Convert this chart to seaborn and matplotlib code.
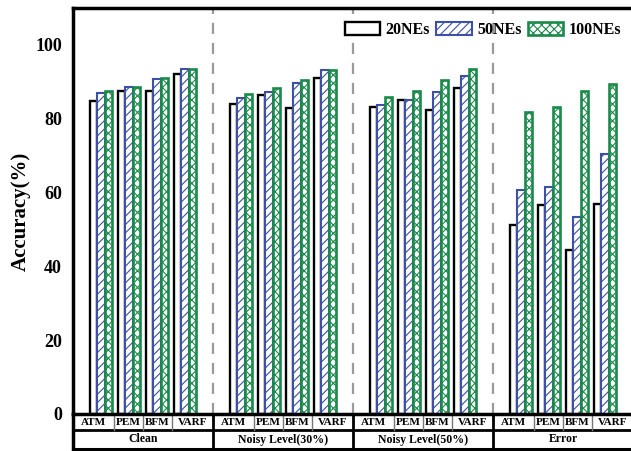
import numpy as np
import pandas as pd
import matplotlib
matplotlib.use("Agg")
import matplotlib.pyplot as plt
import seaborn as sns
from matplotlib.patches import Patch
from matplotlib.transforms import blended_transform_factory

# ---- data ----
conditions = ["Clean", "Noisy Level(30%)", "Noisy Level(50%)", "Error"]
methods = ["ATM", "PEM", "BFM", "VARF"]
series = ["20NEs", "50NEs", "100NEs"]

ne20 = [84.8, 87.4, 87.5, 92.1,
        84.0, 86.4, 82.9, 91.0,
        83.2, 85.2, 82.5, 88.2,
        51.1, 56.5, 44.3, 56.8]
ne50 = [87.1, 88.5, 90.7, 93.6,
        85.7, 87.3, 89.6, 93.2,
        83.7, 85.2, 87.3, 91.5,
        60.7, 61.6, 53.3, 70.5]
ne100 = [87.4, 88.7, 91.0, 93.6,
         86.7, 88.3, 90.6, 93.2,
         85.8, 87.5, 90.5, 93.4,
         81.8, 83.2, 87.4, 89.4]

yticks = [0, 20, 40, 60, 80, 100]

# ---- build long table ----
rows = []
for gi, cond in enumerate(conditions):
    for mi, m in enumerate(methods):
        idx = gi * 4 + mi
        pos = gi * 5 + mi + 1
        for s, vals in zip(series, [ne20, ne50, ne100]):
            rows.append(dict(pos=pos, cond=cond, method=m, NEs=s, acc=vals[idx]))
df = pd.DataFrame(rows)

plt.rcParams["hatch.linewidth"] = 0.8

W, H = 631, 451
fig = plt.figure(figsize=(W / 100, H / 100), dpi=100)
ax = fig.add_axes([73 / W, (H - 414) / H, 560 / W, (414 - 8) / H])

sns.barplot(data=df, x="pos", y="acc", hue="NEs", hue_order=series,
            native_scale=True, width=0.8, ax=ax, legend=False, errorbar=None)

edgecols = ["black", "#3B50A6", "#1A8A4A"]
hatches = [None, "////", "xxxx"]
lws = [1.7, 1.5, 1.9]
for cont, ec, ht, lw in zip(ax.containers, edgecols, hatches, lws):
    for bar in cont:
        bar.set_facecolor("white")
        bar.set_edgecolor(ec)
        bar.set_linewidth(lw)
        if ht:
            bar.set_hatch(ht)

ax.set_xlim(0, 20)
ax.set_ylim(0, 110)
ax.set_xticks([])
ax.set_xlabel("")
ax.set_yticks(yticks)
ax.set_yticklabels([str(t) for t in yticks], fontfamily="Liberation Serif",
                   fontweight="bold", fontsize=13)
ax.tick_params(axis="y", length=0, pad=8)
ax.set_ylabel("Accuracy(%)", fontfamily="Liberation Serif", fontweight="bold",
              fontsize=15, labelpad=3)

for side in ["left", "top"]:
    ax.spines[side].set_linewidth(2.5)
    ax.spines[side].set_color("black")
ax.spines["right"].set_visible(False)
ax.spines["bottom"].set_linewidth(2.5)

# dashed separators
for xs in [5, 10, 15]:
    ax.axvline(xs, color="#9a9a9a", linestyle=(0, (5, 4)), linewidth=1.6, zorder=0)

# ---- category table below axis ----
tr = blended_transform_factory(ax.transData, fig.transFigure)
y0 = (H - 415.5) / H
y1 = (H - 430) / H
y2 = (H - 449) / H
font1 = dict(fontfamily="Liberation Serif", fontweight="bold", fontsize=8,
             ha="center", va="center", transform=tr, clip_on=False)
font2 = dict(font1, fontsize=8.5)
for yy, lw in [(y1, 2.0), (y2, 2.2)]:
    ax.plot([0, 20], [yy, yy], color="black", lw=lw, transform=tr, clip_on=False)
ax.plot([0, 0], [(H - 414) / H, y2], color="black", lw=2.5, transform=tr, clip_on=False)
cell_edges = [0, 1.46, 2.5, 3.54, 5]
for gi, cond in enumerate(conditions):
    g0 = gi * 5
    if gi > 0:
        ax.plot([g0, g0], [(H - 414) / H, y2], color="black", lw=2.0,
                transform=tr, clip_on=False)
    for e in cell_edges[1:-1]:
        ax.plot([g0 + e, g0 + e], [y0, y1], color="#777777", lw=1.0,
                transform=tr, clip_on=False)
    for mi, m in enumerate(methods):
        xc = g0 + (cell_edges[mi] + cell_edges[mi + 1]) / 2
        ax.text(xc, (y0 + y1) / 2, m, **font1)
    ax.text(g0 + 2.5, (y1 + y2) / 2, cond, **font2)

# ---- legend ----
handles = [Patch(facecolor="white", edgecolor=ec, hatch=ht, linewidth=lw, label=s)
           for ec, ht, lw, s in zip(edgecols, hatches, lws, series)]
ax.legend(handles=handles, loc="upper right", bbox_to_anchor=(1.003, 1.0),
          ncol=3, frameon=False, handlelength=2.2, handleheight=0.9,
          columnspacing=0.4, handletextpad=0.35, borderpad=0.35,
          prop=dict(family="Liberation Serif", weight="bold", size=11.5))

fig.savefig("out.png", dpi=100)
